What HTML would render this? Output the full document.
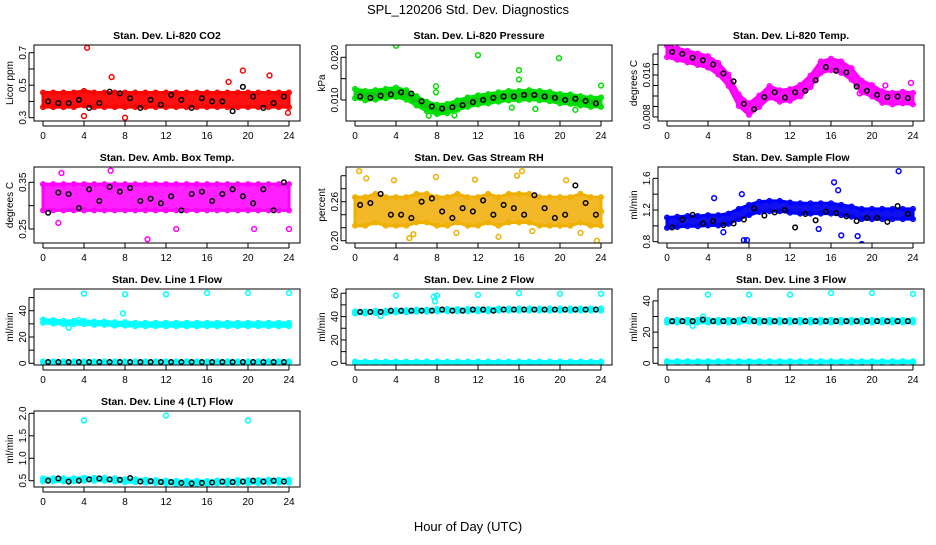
<!DOCTYPE html>
<html><head><meta charset="utf-8"><style>
html,body{margin:0;padding:0;background:#fff}
svg text{font-family:"Liberation Sans",sans-serif}
</style></head><body>
<svg id="c" width="936" height="540" viewBox="0 0 936 540" xmlns="http://www.w3.org/2000/svg">
<text x="468" y="14" text-anchor="middle" font-size="13">SPL_120206  Std. Dev. Diagnostics</text>
<text x="468" y="531" text-anchor="middle" font-size="13">Hour of Day (UTC)</text>
</svg>
<script>
const xTicks=[0,4,8,12,16,20,24];
const blackHours=[0.5,1.5,2.5,3.5,4.5,5.5,6.5,7.5,8.5,9.5,10.5,11.5,12.5,13.5,14.5,15.5,16.5,17.5,18.5,19.5,20.5,21.5,22.5,23.5];
const bandHours=[0,1,2,3,4,5,6,7,8,9,10,11,12,13,14,15,16,17,18,19,20,21,22,23,24];

const co2Center=[0.41,0.41,0.41,0.41,0.42,0.41,0.41,0.41,0.41,0.41,0.41,0.41,0.41,0.41,0.41,0.41,0.41,0.41,0.41,0.41,0.41,0.41,0.41,0.41,0.41];
const co2Black=[0.40,0.39,0.39,0.41,0.36,0.39,0.46,0.45,0.42,0.36,0.41,0.38,0.44,0.41,0.36,0.42,0.40,0.40,0.34,0.49,0.43,0.36,0.39,0.43];
const co2Out=[[4.3,0.73],[6.7,0.55],[8,0.30],[19.5,0.59],[22.1,0.56],[18.1,0.52],[4,0.31],[23.9,0.33]];

const presCenter=[0.0115,0.011,0.0112,0.0115,0.0118,0.0112,0.0098,0.0085,0.0078,0.008,0.0088,0.0095,0.010,0.0103,0.0107,0.011,0.011,0.0112,0.011,0.0108,0.0103,0.0102,0.0098,0.0095,0.0095];
const presBlack=[0.0108,0.0105,0.011,0.0113,0.0118,0.0115,0.0097,0.0085,0.0080,0.0083,0.0088,0.0095,0.0100,0.0105,0.0108,0.0108,0.0112,0.0112,0.0108,0.0105,0.0100,0.0103,0.0098,0.0092];
const presOut=[[4,0.0227],[12,0.0205],[19.9,0.0198],[16,0.017],[16,0.0148],[7.9,0.0132],[7.9,0.0118],[24,0.0134],[7.2,0.0063],[9.7,0.0064],[15.3,0.0082],[17.6,0.0079],[21.5,0.0077]];

const tempCenter=[0.0205,0.020,0.0195,0.019,0.0185,0.0172,0.015,0.0112,0.0095,0.011,0.0128,0.0120,0.0122,0.013,0.0148,0.0175,0.018,0.0175,0.0162,0.0138,0.013,0.0118,0.0115,0.0117,0.0115];
const tempBlack=[0.0204,0.0200,0.0193,0.0188,0.0180,0.0163,0.0148,0.0105,0.0095,0.0118,0.0127,0.0117,0.0127,0.0130,0.0150,0.0175,0.0168,0.0165,0.0138,0.0130,0.0122,0.0118,0.0119,0.0116];
const tempOut=[[23.8,0.0145],[21.3,0.0140],[18.8,0.0125]];

const ambCenter=[0.318,0.318,0.318,0.318,0.318,0.318,0.318,0.318,0.318,0.318,0.318,0.318,0.318,0.318,0.318,0.318,0.318,0.318,0.318,0.318,0.318,0.318,0.318,0.318,0.318];
const ambBlack=[0.285,0.328,0.325,0.295,0.335,0.31,0.34,0.33,0.338,0.31,0.315,0.305,0.32,0.29,0.325,0.33,0.31,0.325,0.335,0.32,0.305,0.335,0.29,0.35];
const ambOut=[[10.2,0.228],[13,0.25],[24,0.25],[6.6,0.375],[1.8,0.37],[20.6,0.25],[1.5,0.263]];

const rhCenter=[0.245,0.245,0.25,0.245,0.245,0.245,0.25,0.25,0.245,0.245,0.25,0.245,0.245,0.25,0.245,0.25,0.25,0.25,0.245,0.245,0.245,0.245,0.25,0.245,0.245];
const rhBlack=[0.255,0.258,0.272,0.24,0.24,0.235,0.26,0.265,0.245,0.235,0.25,0.245,0.262,0.24,0.255,0.25,0.24,0.27,0.25,0.235,0.24,0.285,0.258,0.24];
const rhOut=[[0.4,0.307],[1.1,0.296],[3.8,0.293],[5.3,0.204],[5.7,0.21],[7.9,0.298],[9.9,0.212],[14,0.206],[16.3,0.307],[17.3,0.215],[20.6,0.293],[22,0.212],[23.6,0.2],[24,0.245],[11.7,0.294],[15.8,0.30]];

const flowCenter=[1.04,1.05,1.06,1.06,1.07,1.07,1.09,1.15,1.2,1.24,1.25,1.25,1.23,1.22,1.22,1.22,1.22,1.2,1.18,1.15,1.15,1.15,1.15,1.15,1.15];
const flowBlack=[0.98,1.08,1.14,1.03,1.06,1.01,1.03,1.08,1.22,1.13,1.17,1.2,0.98,1.15,1.07,1.18,1.16,1.12,1.06,1.10,1.10,1.05,1.25,1.15];
const flowOut=[[7.5,0.82],[7.8,0.82],[5.5,0.92],[16.3,1.55],[16.7,1.45],[19,0.77],[18.6,0.87],[17,0.88],[22.6,1.69],[14.8,0.96],[4.6,1.35],[7.3,1.4]];

const l1Center=[32,31.5,31,31,31,30.5,30.5,30,30,29.5,29.5,29.5,29.5,29.5,29.5,29.5,29.5,29.5,29.5,29.5,29.5,29.5,29.5,29.5,29.5];
const l1Low=[1,1,1,1,1,1,1,1,1,1,1,1,1,1,1,1,1,1,1,1,1,1,1,1,1];
const l1Black=[1,1,1,1,1,1,1,1,1,1,1,1,1,1,1,1,1,1,1,1,1,1,1,1];
const l1Out=[[4,53],[8,52.5],[12,52.5],[16,53.5],[20,53.5],[24,53.5],[7.8,38],[2.5,27],[3.5,33]];

const l2Center=[43.5,43.5,44,44,44.5,44.5,45,45,45.5,45.5,45.5,45.5,45.5,45.5,46,46,46,46,46,46,46,46,46,46,46];
const l2Low=[1,1,1,1,1,1,1,1,1,1,1,1,1,1,1,1,1,1,1,1,1,1,1,1,1];
const l2Black=[44,44,44,45,45,45,45,45,46,45,45,46,46,45,46,46,46,46,46,46,46,46,46,46];
const l2Out=[[4,58],[8,58],[12,58.5],[16,60],[20,59.5],[24,59.5],[7.7,57],[7.8,53],[2.5,40.5]];

const l3Center=[27,27,27,27,27,27,27,27,27.5,27,27,27,27,27,27,27,27,27,27,27,27,27,27,27,27];
const l3Low=[1,1,1,1,1,1,1,1,1,1,1,1,1,1,1,1,1,1,1,1,1,1,1,1,1];
const l3Black=[27,27,27,28,27,27,27,28,27,27,27,27,27,27,27,27,27,27,27,27,27,27,27,27];
const l3Out=[[4,44],[8,44],[12,44],[16,45],[20,45],[24,44.5],[2.5,24],[3.5,30]];

const l4Center=[0.52,0.52,0.52,0.52,0.53,0.53,0.53,0.52,0.5,0.5,0.49,0.48,0.47,0.46,0.46,0.46,0.46,0.47,0.47,0.48,0.48,0.48,0.49,0.49,0.49];
const l4Black=[0.50,0.55,0.48,0.50,0.53,0.55,0.53,0.52,0.56,0.48,0.49,0.47,0.47,0.45,0.44,0.45,0.46,0.48,0.47,0.48,0.50,0.48,0.50,0.48];
const l4Out=[[4,1.84],[12,1.95],[20,1.84]];

const NS="http://www.w3.org/2000/svg";
const svg=document.getElementById('c');
function mk(tag,attrs,parent){const e=document.createElementNS(NS,tag);for(const k in attrs)e.setAttribute(k,attrs[k]);(parent||svg).appendChild(e);return e;}

const panels=[
 {col:0,row:0,title:"Stan. Dev. Li-820 CO2",ylab:"Licor ppm",ylim:[0.2797,0.7474],ticks:[0.3,0.4,0.5,0.6,0.7],labels:[0.3,0.5,0.7],color:"#ff0000",fill:"#ff1010",center:co2Center,half:0.045,black:co2Black,out:co2Out,name:"co2"},
 {col:1,row:0,title:"Stan. Dev. Li-820 Pressure",ylab:"kPa",ylim:[0.00508,0.02288],ticks:[0.010,0.015,0.020],labels:[0.010,0.020],color:"#00e000",fill:"#10c810",center:presCenter,half:0.0011,black:presBlack,out:presOut,name:"pressure",dec:3},
 {col:2,row:0,title:"Stan. Dev. Li-820 Temp.",ylab:"degrees C",ylim:[0.00724,0.02171],ticks:[0.008,0.010,0.012,0.014,0.016,0.018,0.020],labels:[0.008,0.016],color:"#ff00ff",fill:"#ff10ff",center:tempCenter,half:0.0011,black:tempBlack,out:tempOut,name:"temp",dec:3},
 {col:0,row:1,title:"Stan. Dev. Amb. Box Temp.",ylab:"degrees C",ylim:[0.22,0.3828],ticks:[0.25,0.30,0.35],labels:[0.25,0.35],color:"#ff00ff",fill:"#ff20ff",center:ambCenter,half:0.028,black:ambBlack,out:ambOut,name:"amb-temp",dec:2},
 {col:1,row:1,title:"Stan. Dev. Gas Stream RH",ylab:"percent",ylim:[0.1965,0.3134],ticks:[0.20,0.22,0.24,0.26,0.28,0.30],labels:[0.20,0.26],color:"#f0b000",fill:"#f2b828",center:rhCenter,half:0.022,black:rhBlack,out:rhOut,name:"rh",dec:2},
 {col:2,row:1,title:"Stan. Dev. Sample Flow",ylab:"ml/min",ylim:[0.7836,1.743],ticks:[0.8,1.0,1.2,1.4,1.6],labels:[0.8,1.2,1.6],color:"#0000ff",fill:"#1010f0",center:flowCenter,half:0.065,black:flowBlack,out:flowOut,name:"sample-flow",dec:1},
 {col:0,row:2,title:"Stan. Dev. Line 1 Flow",ylab:"ml/min",ylim:[-1.28,56.5],ticks:[0,10,20,30,40,50],labels:[0,20,40],color:"#00ffff",fill:"#00ffff",center:l1Center,half:1.3,low:l1Low,black:l1Black,out:l1Out,name:"line1"},
 {col:1,row:2,title:"Stan. Dev. Line 2 Flow",ylab:"ml/min",ylim:[-1.44,63.6],ticks:[0,10,20,30,40,50,60],labels:[0,20,40,60],color:"#00ffff",fill:"#00ffff",center:l2Center,half:1.0,low:l2Low,black:l2Black,out:l2Out,name:"line2"},
 {col:2,row:2,title:"Stan. Dev. Line 3 Flow",ylab:"ml/min",ylim:[-1.07,47.6],ticks:[0,10,20,30,40],labels:[0,20,40],color:"#00ffff",fill:"#00ffff",center:l3Center,half:0.9,low:l3Low,black:l3Black,out:l3Out,name:"line3"},
 {col:0,row:3,title:"Stan. Dev. Line 4 (LT) Flow",ylab:"ml/min",ylim:[0.36,2.052],ticks:[0.5,1.0,1.5,2.0],labels:[0.5,1.0,1.5,2.0],color:"#00ffff",fill:"#00ffff",center:l4Center,half:0.035,black:l4Black,out:l4Out,name:"line4",dec:1}
];

function fmt(v,p){if(p.dec!==undefined)return v.toFixed(p.dec);return String(v);}

panels.forEach(p=>{
 const x0=p.col*312, L=x0+34, R=x0+300, T=45+122*p.row, B=T+76;
 const g=mk('g',{});
 
 
 const xs=h=>x0+43+h*10.25;
 const ys=v=>B-(v-p.ylim[0])/(p.ylim[1]-p.ylim[0])*(B-T);
 const clip='clip-'+p.name;
 const cp=mk('clipPath',{id:clip},g);mk('rect',{x:L,y:T,width:R-L,height:B-T},cp);
 const data=mk('g',{'clip-path':'url(#'+clip+')'},g);
 function band(center,half,nm){
  let up=bandHours.map((h,i)=>xs(h)+','+ys(center[i]+half));
  let dn=bandHours.map((h,i)=>xs(h)+','+ys(center[i]-half)).reverse();
  const poly=mk('polygon',{points:up.concat(dn).join(' '),fill:p.fill,stroke:p.color,'stroke-width':3,'stroke-linejoin':'round'},data);
  
  
  bandHours.forEach((h,i)=>{
   [center[i]+half,center[i]-half].forEach(v=>{
    const c=mk('circle',{cx:xs(h),cy:ys(v),r:2.3,fill:'none',stroke:p.color,'stroke-width':1.4},data);
    
    
   });
  });
 }
 band(p.center,p.half,p.name+'-band');
 if(p.low)band(p.low,0.5*(p.ylim[1]-p.ylim[0])/60,p.name+'-low-band');
 p.out.forEach(o=>{
  const c=mk('circle',{cx:xs(o[0]),cy:ys(o[1]),r:2.4,fill:'none',stroke:p.color,'stroke-width':1.5},data);
  
  
 });
 p.black.forEach((v,i)=>{
  const c=mk('circle',{cx:xs(blackHours[i]),cy:ys(v),r:2.3,fill:'none',stroke:'#000','stroke-width':1.5},data);
  
  
 });
 const box=mk('rect',{x:L,y:T,width:R-L,height:B-T,fill:'none',stroke:'#000','stroke-width':1},g);
 
 
 const t=mk('text',{x:(L+R)/2,y:T-6,'text-anchor':'middle','font-size':10.5,'font-weight':'bold'},g);
 t.textContent=p.title;
 
 
 const yl=mk('text',{x:0,y:0,'text-anchor':'middle','font-size':10,transform:`translate(${x0+13},${(T+B)/2}) rotate(-90)`},g);
 yl.textContent=p.ylab;
 
 
 xTicks.forEach(h=>{
  mk('line',{x1:xs(h),x2:xs(h),y1:B,y2:B+5,stroke:'#000'},g);
  const tl=mk('text',{x:xs(h),y:B+18,'text-anchor':'middle','font-size':10},g);
  tl.textContent=h;
  
  
 });
 mk('line',{x1:xs(0),x2:xs(24),y1:B+5,y2:B+5,stroke:'#000'},g);
 p.ticks.forEach(v=>{mk('line',{x1:L-5,x2:L,y1:ys(v),y2:ys(v),stroke:'#000'},g);});
 mk('line',{x1:L-5,x2:L-5,y1:ys(p.ticks[0]),y2:ys(p.ticks[p.ticks.length-1]),stroke:'#000'},g);
 p.labels.forEach(v=>{
  const tl=mk('text',{x:0,y:0,'text-anchor':'middle','font-size':10,transform:`translate(${L-8},${ys(v)}) rotate(-90)`},g);
  tl.textContent=fmt(v,p);
  
  
 });
});
</script>
</body></html>
